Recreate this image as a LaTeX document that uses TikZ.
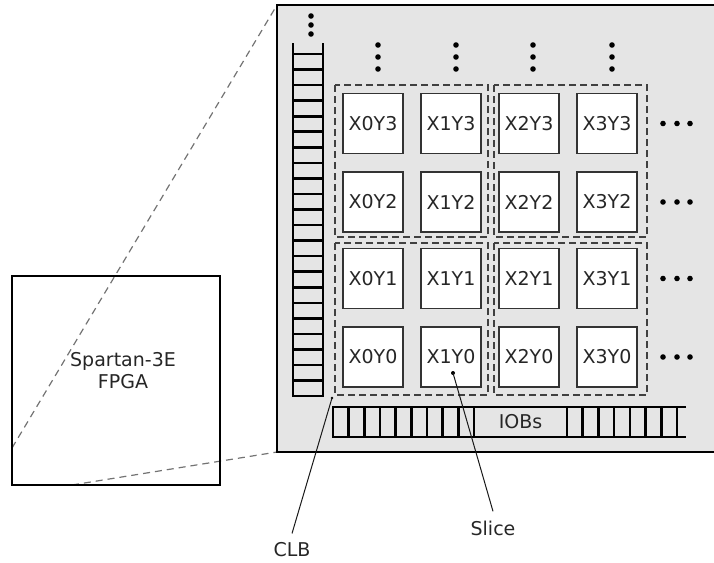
\documentclass[tikz,border=0pt]{standalone}
\usepackage{fontspec}
\setmainfont{DejaVu Sans}
\usetikzlibrary{calc, positioning}

\begin{document}
\begin{tikzpicture}[x=1pt, y=-1pt,
    slicebox/.style={draw=black!80, fill=white, line width=1.3pt, minimum width=60pt, minimum height=60pt, inner sep=0pt},
    clbbox/.style={draw=black!75, line width=1.3pt, dash pattern=on 7pt off 4pt},
    zoomline/.style={draw=black!55, line width=1.2pt, dash pattern=on 7pt off 5pt},
    ladder/.style={line width=2.6pt},
    pointer/.style={draw=black!90, line width=1pt},
    every node/.style={font=\fontsize{19}{22}\selectfont, text=black!85}]
    \useasboundingbox (0,0) rectangle (714,562);

    % 放大虚线
    \coordinate (zA) at (12,448);
    \coordinate (zB) at (72,485);
    \coordinate (chipNW) at (277,5);
    \coordinate (chipSW) at (277,452);
    \draw[zoomline] (zA) -- (chipNW);
    \draw[zoomline] (zB) -- (chipSW);

    % 整片 FPGA
    \node[draw=black, line width=2.5pt, minimum width=208pt, minimum height=209pt] (fpga) at (116,380.5) {};
    \node[align=center] (fpganame) at (123,371) {Spartan-3E\\FPGA};

    % 放大后的芯片
    \draw[line width=2.5pt, fill=black!10] (chipNW) rectangle (720,452);

    % 左侧 IOB 梯形
    \draw[ladder] (293,43) -- (293,396) -- (323,396) -- (323,43);
    \foreach \k in {0,...,21} {
        \pgfmathsetmacro\yy{54+15.55*\k}
        \draw[ladder] (293,\yy) -- (323,\yy);
    }
    \foreach \yy in {16,25,34}
        \fill (311,\yy) circle (2.8pt);

    % CLB 虚线框
    \foreach \xx in {335,494}
        \foreach \yy in {85,243}
            \draw[clbbox] (\xx,\yy) rectangle +(153,152);

    % Slice
    \foreach \i/\xx in {0/373,1/451,2/529,3/607}
        \foreach \j/\yy in {0/357,1/278.5,2/202,3/123.5}
            \node[slicebox] (s\i\j) at (\xx,\yy) {X\i Y\j};

    % 省略号
    \foreach \xx in {378,456,533,612}
        \foreach \yy in {45,57,69}
            \fill (\xx,\yy) circle (2.8pt);
    \foreach \yy in {123.5,202,278.5,357}
        \foreach \xx in {663,677,690}
            \fill (\xx,\yy) circle (2.8pt);

    % 底部 IOB
    \draw[ladder] (686,407) -- (333,407) -- (333,437) -- (686,437);
    \foreach \k in {1,...,9} {
        \pgfmathsetmacro\xx{333+15.65*\k}
        \draw[ladder] (\xx,407) -- (\xx,437);
    }
    \foreach \k in {0,...,7} {
        \pgfmathsetmacro\xx{567+15.7*\k}
        \draw[ladder] (\xx,407) -- (\xx,437);
    }
    \node (iobs) at (520.5,422) {IOBs};

    % 标注
    \node[outer sep=6pt] (clblabel) at (292,550) {CLB};
    \node[outer sep=6pt] (slicelabel) at (493,528) {Slice};
    \coordinate (clbtip) at (332,398);
    \coordinate (slicetip) at ($(s10.center)+(2,16)$);
    \fill (clbtip) circle (1.4pt);
    \fill (slicetip) circle (2pt);
    \draw[pointer] (clbtip) -- (clblabel.north);
    \draw[pointer] (slicetip) -- (slicelabel.north);
\end{tikzpicture}
\end{document}
